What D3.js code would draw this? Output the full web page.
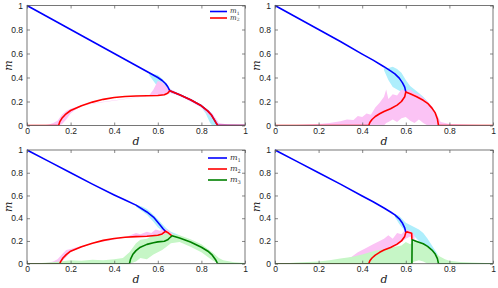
<!DOCTYPE html>
<html>
<head>
<meta charset="utf-8">
<script src="https://cdn.jsdelivr.net/npm/d3@7"></script>
<style>
  body { margin: 0; background: #fff; }
  svg { display: block; }
  .tick text { font-family: "Liberation Sans", Arial, sans-serif; font-size: 8.5px; fill: #222; }
  .tick line { stroke: #555; stroke-width: 0.7; }
</style>
</head>
<body>
<svg id="chart"></svg>
<script>
// tick values shared by all four panels
const xTicks = [0, 0.2, 0.4, 0.6, 0.8, 1];
const yTicks = [0, 0.2, 0.4, 0.6, 0.8, 1];

// panel A (top left): [d, m]
const aM1 = [[0,1],[0.1,0.9],[0.2,0.8],[0.3,0.7],[0.4,0.6],[0.5,0.5],[0.55,0.45],[0.6,0.4],[0.62,0.375],[0.635,0.35],[0.645,0.325],[0.652,0.3],[0.655,0.29],[0.7,0.256],[0.75,0.214],[0.8,0.164],[0.83,0.12],[0.845,0.09],[0.86,0.045],[0.868,0.02],[0.875,0],[1,0]];
const aM2 = [[0,0],[0.145,0],[0.15,0.03],[0.16,0.06],[0.175,0.09],[0.2,0.125],[0.25,0.165],[0.3,0.195],[0.35,0.218],[0.4,0.233],[0.45,0.242],[0.5,0.246],[0.55,0.248],[0.6,0.25],[0.63,0.256],[0.645,0.268],[0.655,0.29],[0.7,0.256],[0.75,0.214],[0.8,0.164],[0.83,0.12],[0.845,0.09],[0.86,0.045],[0.868,0.02],[0.875,0],[1,0]];
// shaded simulation ranges: [d, low, high]
const aBand1 = [[0.56,0.42,0.44],[0.58,0.37,0.43],[0.6,0.32,0.42],[0.62,0.29,0.39],[0.64,0.28,0.35],[0.66,0.27,0.3],[0.7,0.25,0.26],[0.78,0.18,0.19],[0.8,0.15,0.17],[0.82,0.1,0.14],[0.84,0.02,0.11],[0.85,0,0.08],[0.86,0,0.04],[0.87,0,0.01]];
const aBand2 = [[0.08,0,0.003],[0.1,0,0.008],[0.12,0,0.02],[0.14,0,0.04],[0.16,0.01,0.09],[0.18,0.05,0.12],[0.2,0.1,0.14],[0.22,0.13,0.15],[0.26,0.17,0.175],[0.56,0.248,0.25],[0.58,0.25,0.3],[0.6,0.25,0.37],[0.62,0.25,0.36],[0.64,0.26,0.32],[0.66,0.27,0.3],[0.7,0.245,0.265],[0.75,0.2,0.22],[0.8,0.15,0.17],[0.85,0.06,0.1],[0.88,0,0.02],[0.92,0,0.008],[1,0,0.003]];

// panel B (top right)
const bM1 = [[0,1],[0.1,0.9],[0.2,0.8],[0.3,0.7],[0.4,0.595],[0.45,0.545],[0.5,0.49],[0.53,0.455],[0.55,0.43],[0.57,0.395],[0.585,0.355],[0.595,0.32],[0.6,0.28]];
const bM2 = [[0,0],[0.43,0],[0.435,0.025],[0.445,0.05],[0.46,0.075],[0.48,0.098],[0.5,0.117],[0.53,0.14],[0.56,0.17],[0.58,0.2],[0.595,0.24],[0.6,0.28],[0.62,0.265],[0.65,0.24],[0.68,0.21],[0.7,0.185],[0.72,0.145],[0.735,0.105],[0.745,0.055],[0.75,0],[1,0]];
const bBand1 = [[0.5,0.46,0.48],[0.52,0.38,0.48],[0.54,0.32,0.49],[0.56,0.3,0.47],[0.58,0.28,0.44],[0.6,0.26,0.38],[0.62,0.25,0.33],[0.64,0.23,0.3],[0.66,0.21,0.27],[0.68,0.19,0.24],[0.7,0.17,0.2]];
const bBand2 = [[0.1,0,0.005],[0.2,0,0.012],[0.25,0,0.02],[0.3,0,0.035],[0.33,0,0.05],[0.36,0,0.045],[0.38,0,0.08],[0.4,0,0.07],[0.42,0,0.1],[0.44,0,0.09],[0.46,0,0.15],[0.48,0,0.19],[0.5,0,0.24],[0.51,0.02,0.3],[0.52,0.03,0.22],[0.54,0.05,0.26],[0.56,0.03,0.25],[0.58,0.06,0.3],[0.6,0.07,0.29],[0.62,0.04,0.3],[0.64,0.02,0.27],[0.66,0.05,0.26],[0.68,0.02,0.23],[0.7,0,0.2],[0.72,0,0.16],[0.74,0,0.1],[0.76,0,0.03],[0.8,0,0.012],[0.9,0,0.006],[1,0,0.003]];

// panel C (bottom left)
const cM1 = [[0,1],[0.1,0.9],[0.2,0.8],[0.3,0.7],[0.4,0.605],[0.45,0.56],[0.5,0.515],[0.55,0.455],[0.58,0.41],[0.6,0.365],[0.615,0.33],[0.625,0.305],[0.635,0.285]];
const cM2 = [[0,0],[0.15,0],[0.155,0.02],[0.165,0.05],[0.18,0.08],[0.2,0.11],[0.25,0.15],[0.3,0.18],[0.35,0.205],[0.4,0.222],[0.45,0.232],[0.5,0.238],[0.55,0.242],[0.6,0.25],[0.62,0.262],[0.635,0.285],[0.645,0.275],[0.655,0.26],[0.665,0.245]];
const cM3 = [[0,0],[0.47,0],[0.475,0.04],[0.485,0.08],[0.5,0.115],[0.52,0.145],[0.55,0.17],[0.58,0.185],[0.6,0.192],[0.63,0.197],[0.645,0.21],[0.655,0.228],[0.665,0.245],[0.7,0.226],[0.75,0.19],[0.8,0.145],[0.83,0.11],[0.85,0.075],[0.865,0.035],[0.872,0.01],[0.875,0],[1,0]];
const cBand1 = [[0.5,0.5,0.52],[0.53,0.46,0.5],[0.55,0.43,0.48],[0.58,0.37,0.43],[0.6,0.32,0.39],[0.62,0.29,0.35],[0.64,0.26,0.31],[0.66,0.25,0.28],[0.7,0.24,0.25]];
const cBand2 = [[0.08,0,0.003],[0.1,0,0.01],[0.12,0,0.02],[0.14,0,0.04],[0.16,0.02,0.08],[0.18,0.06,0.12],[0.2,0.1,0.13],[0.22,0.12,0.14],[0.3,0.178,0.182],[0.46,0.232,0.24],[0.48,0.234,0.255],[0.5,0.236,0.27],[0.52,0.238,0.26],[0.55,0.24,0.28],[0.57,0.24,0.27],[0.59,0.245,0.3],[0.61,0.25,0.29],[0.63,0.255,0.31],[0.65,0.25,0.29],[0.67,0.24,0.26],[0.7,0.22,0.235]];
const cBand3 = [[0.05,0,0.005],[0.1,0,0.01],[0.15,0,0.02],[0.2,0,0.03],[0.25,0,0.025],[0.3,0,0.035],[0.35,0,0.03],[0.4,0,0.04],[0.44,0,0.05],[0.47,0,0.1],[0.5,0.02,0.18],[0.52,0.05,0.21],[0.55,0.04,0.22],[0.58,0.08,0.25],[0.6,0.1,0.26],[0.62,0.12,0.25],[0.64,0.15,0.27],[0.66,0.18,0.26],[0.7,0.19,0.25],[0.75,0.15,0.215],[0.8,0.1,0.17],[0.85,0.03,0.1],[0.88,0,0.05],[0.9,0,0.03],[0.95,0,0.012],[1,0,0.006]];

// panel D (bottom right)
const dM1 = [[0,1],[0.1,0.9],[0.2,0.8],[0.3,0.7],[0.4,0.595],[0.45,0.545],[0.5,0.49],[0.53,0.455],[0.55,0.43],[0.57,0.395],[0.585,0.355],[0.595,0.315],[0.6,0.275]];
const dM2 = [[0,0],[0.43,0],[0.435,0.025],[0.445,0.05],[0.46,0.075],[0.48,0.1],[0.5,0.12],[0.53,0.143],[0.56,0.172],[0.58,0.2],[0.595,0.24],[0.6,0.275],[0.605,0.28],[0.615,0.275],[0.627,0.268],[0.628,0.21]];
const dM3 = [[0,0],[0.628,0],[0.629,0.21],[0.65,0.195],[0.68,0.175],[0.7,0.152],[0.72,0.12],[0.735,0.085],[0.745,0.045],[0.75,0],[1,0]];
const dBand1 = [[0.55,0.41,0.44],[0.57,0.35,0.42],[0.59,0.3,0.38],[0.6,0.28,0.36],[0.62,0.26,0.34],[0.64,0.24,0.32],[0.66,0.2,0.3],[0.68,0.16,0.27],[0.7,0.12,0.22],[0.72,0.08,0.16],[0.74,0.02,0.1],[0.76,0,0.04],[0.78,0,0.01]];
const dBand2 = [[0.25,0,0.01],[0.3,0,0.025],[0.35,0.01,0.06],[0.38,0.02,0.1],[0.4,0.04,0.12],[0.42,0.05,0.14],[0.45,0.08,0.17],[0.48,0.1,0.2],[0.5,0.12,0.22],[0.52,0.13,0.25],[0.54,0.15,0.22],[0.56,0.16,0.27],[0.58,0.19,0.26],[0.6,0.22,0.3],[0.62,0.24,0.29],[0.64,0.2,0.25]];
const dBand3 = [[0.05,0,0.005],[0.1,0,0.01],[0.15,0,0.015],[0.2,0,0.02],[0.25,0,0.03],[0.3,0,0.045],[0.35,0,0.06],[0.4,0,0.08],[0.45,0,0.11],[0.5,0,0.13],[0.55,0,0.15],[0.58,0,0.16],[0.6,0,0.19],[0.62,0,0.17],[0.64,0.02,0.2],[0.66,0.03,0.19],[0.68,0.02,0.18],[0.7,0,0.15],[0.72,0,0.12],[0.75,0,0.07],[0.78,0,0.04],[0.8,0,0.025],[0.85,0,0.015],[0.9,0,0.01],[1,0,0.005]];

const lineColors = ['#0000ff', '#ff0000', '#008000'];
const bandColors = ['#aeeefc', '#fbc3f5', '#c6f6c6'];

const W = 498, H = 288;
const svg = d3.select('#chart').attr('width', W).attr('height', H);

const panels = [
  { box: [27, 5.5, 245, 125.5], lines: [aM1, aM2], bands: [aBand1, aBand2], legend: { x: 210, y: 11.5, dy: 6.5, len: 17, size: 7 } },
  { box: [275, 5.5, 493, 125.5], lines: [bM1, bM2], bands: [bBand1, bBand2] },
  { box: [27, 150, 245, 263.7], lines: [cM1, cM2, cM3], bands: [cBand1, cBand2, cBand3], legend: { x: 208, y: 158, dy: 11, len: 19, size: 8 } },
  { box: [275, 150, 493, 263.7], lines: [dM1, dM2, dM3], bands: [dBand1, dBand2, dBand3] }
];

panels.forEach((p, i) => {
  const [x0, y0, x1, y1] = p.box;
  const x = d3.scaleLinear().domain([0, 1]).range([x0, x1]);
  const y = d3.scaleLinear().domain([0, 1]).range([y1, y0]);
  const g = svg.append('g');

  const clipId = 'clip' + i;
  g.append('clipPath').attr('id', clipId)
    .append('rect').attr('x', x0).attr('y', y0 - 2).attr('width', x1 - x0).attr('height', y1 - y0 + 2);

  const plot = g.append('g').attr('clip-path', `url(#${clipId})`);

  // shaded ranges first, then the lines on top
  const area = d3.area().x(d => x(d[0])).y0(d => y(d[1])).y1(d => y(d[2]));
  p.bands.forEach((b, k) => {
    plot.append('path').attr('d', area(b)).attr('fill', bandColors[k]).attr('stroke', 'none');
  });

  const line = d3.line().x(d => x(d[0])).y(d => y(d[1]));
  p.lines.forEach((l, k) => {
    plot.append('path').attr('d', line(l)).attr('fill', 'none')
      .attr('stroke', lineColors[k]).attr('stroke-width', 1.6).attr('stroke-linejoin', 'round');
  });

  // axes, ticks point inward like matlab
  const fmt = d => String(d);
  g.append('g').attr('transform', `translate(0,${y1})`)
    .call(d3.axisBottom(x).tickValues(xTicks).tickFormat(fmt).tickSizeInner(-3).tickSizeOuter(0).tickPadding(2))
    .call(a => a.select('.domain').remove());
  g.append('g').attr('transform', `translate(0,${y0})`)
    .call(d3.axisTop(x).tickValues(xTicks).tickFormat('').tickSizeInner(-3).tickSizeOuter(0))
    .call(a => a.select('.domain').remove());
  g.append('g').attr('transform', `translate(${x0},0)`)
    .call(d3.axisLeft(y).tickValues(yTicks).tickFormat(fmt).tickSizeInner(-3).tickSizeOuter(0).tickPadding(4))
    .call(a => a.select('.domain').remove());
  g.append('g').attr('transform', `translate(${x1},0)`)
    .call(d3.axisRight(y).tickValues(yTicks).tickFormat('').tickSizeInner(-3).tickSizeOuter(0))
    .call(a => a.select('.domain').remove());

  g.append('rect').attr('x', x0).attr('y', y0).attr('width', x1 - x0).attr('height', y1 - y0)
    .attr('fill', 'none').attr('stroke', '#555').attr('stroke-width', 0.8);

  // axis titles
  g.append('text').attr('x', (x0 + x1) / 2).attr('y', y1 + 19)
    .attr('text-anchor', 'middle').attr('font-family', '"DejaVu Serif", serif')
    .attr('font-style', 'italic').attr('font-size', 11).attr('fill', '#222').text('d');
  g.append('text').attr('transform', `translate(${x0 - 15},${(y0 + y1) / 2}) rotate(-90)`)
    .attr('text-anchor', 'middle').attr('font-family', '"DejaVu Serif", serif')
    .attr('font-style', 'italic').attr('font-size', 11).attr('fill', '#222').text('m');

  // legend
  if (p.legend) {
    const lg = p.legend;
    p.lines.forEach((l, k) => {
      const ly = lg.y + k * lg.dy;
      g.append('line').attr('x1', lg.x).attr('x2', lg.x + lg.len).attr('y1', ly).attr('y2', ly)
        .attr('stroke', lineColors[k]).attr('stroke-width', 1.6);
      const t = g.append('text').attr('x', lg.x + lg.len + 3).attr('y', ly + lg.size * 0.25)
        .attr('font-family', '"DejaVu Serif", serif').attr('font-size', lg.size).attr('fill', '#333');
      t.append('tspan').attr('font-style', 'italic').text('m');
      t.append('tspan').attr('font-size', lg.size * 0.65).attr('dy', lg.size * 0.2).text(k + 1);
    });
  }
});
</script>
</body>
</html>
